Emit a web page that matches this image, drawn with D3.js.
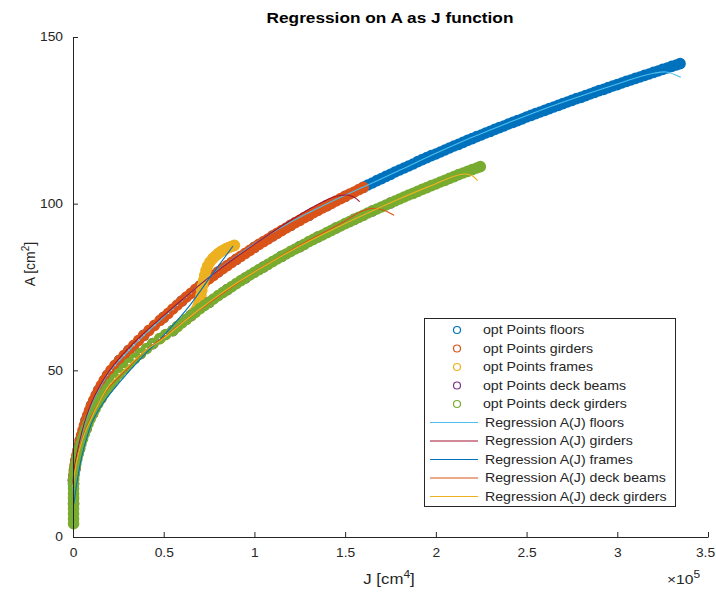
<!DOCTYPE html>
<html><head><meta charset="utf-8">
<script src="https://cdn.jsdelivr.net/npm/d3@7"></script>
<style>
html,body{margin:0;padding:0;background:#fff;}
svg{display:block;}
text{font-family:"Liberation Sans",Arial,Helvetica,sans-serif;}
</style>
</head><body>
<svg id="chart" width="716" height="595"></svg>
<script>
// ---------------- data (J in units of 1e5 cm^4, A in cm^2) ----------------
const xTicks = [0, 0.5, 1, 1.5, 2, 2.5, 3, 3.5];
const yTicks = [0, 50, 100, 150];
const seriesNames = ["floors", "girders", "frames", "deck beams", "deck girders"];
const pointColors = ["#0072BD", "#D95319", "#EDB120", "#7E2F8E", "#77AC30"];
const regColors = ["#4DBEEE", "#A2142F", "#0072BD", "#D95319", "#EDB120"];

const floorsPts = [[0.002,17],[0.016,23],[0.04,29],[0.072,35],[0.102,39.5],[0.141,44],[0.19,48.5],[0.256,53],[0.308,56],[0.39,60.5],[0.5,65.9],[0.6,70.8],[0.7,75.3],[0.8,79.5],[0.9,83.3],[1.0,86.9],[1.1,90.3],[1.2,93.5],[1.3,96.5],[1.4,99.4],[1.5,102.2],
[1.6,104.9],[1.625,105.6],[1.65,106.2],[1.675,106.9],[1.7,107.5],[1.725,108.2],[1.75,108.8],[1.775,109.5],[1.8,110.1],[1.825,110.7],[1.85,111.3],[1.875,111.9],[1.9,112.6],[1.925,113.2],[1.95,113.8],[1.975,114.4],[2.0,114.9],[2.025,115.5],[2.05,116.1],[2.075,116.7],[2.1,117.3],[2.125,117.8],[2.15,118.4],[2.175,119.0],[2.2,119.5],[2.225,120.1],[2.25,120.6],[2.275,121.2],[2.3,121.7],[2.325,122.3],[2.35,122.8],[2.375,123.3],[2.4,123.9],[2.425,124.4],[2.45,124.9],[2.475,125.4],[2.5,126.0],[2.525,126.5],[2.55,127.0],[2.575,127.5],[2.6,128.0],[2.625,128.5],[2.65,129.0],[2.675,129.5],[2.7,130.0],[2.725,130.5],[2.75,131.0],[2.775,131.5],[2.8,131.9],[2.825,132.4],[2.85,132.9],[2.875,133.4],[2.9,133.9],[2.925,134.3],[2.95,134.8],[2.975,135.3],[3.0,135.7],[3.025,136.2],[3.05,136.7],[3.075,137.1],[3.1,137.6],[3.125,138.0],[3.15,138.5],[3.175,138.9],[3.2,139.4],[3.225,139.8],[3.25,140.3],[3.275,140.7],[3.3,141.2],[3.325,141.6],[3.346,142.0]];

const girdersPts = [[0.002,17],[0.004,18.5],[0.007,20],[0.011,21.5],[0.016,23],[0.021,24.5],[0.027,26],[0.033,27.5],[0.04,29],[0.047,30.5],[0.055,32],[0.063,33.5],[0.072,35],[0.081,36.5],[0.091,38],[0.102,39.5],[0.114,41],[0.127,42.5],[0.141,44],[0.156,45.5],[0.172,47],[0.19,48.5],[0.209,50],[0.231,51.5],[0.256,53],[0.282,54.5],[0.308,56],[0.335,57.5],[0.362,59],[0.39,60.5],[0.419,62],[0.449,63.5],[0.48,65],[0.5,65.9],[0.525,67.1],[0.55,68.4],[0.575,69.6],[0.6,70.8],[0.625,72.0],[0.65,73.1],[0.675,74.3],[0.7,75.3],[0.725,76.4],[0.75,77.5],[0.775,78.5],[0.8,79.5],[0.825,80.5],[0.85,81.4],[0.875,82.4],[0.9,83.3],[0.925,84.2],[0.95,85.1],[0.975,86.0],[1.0,86.9],[1.025,87.8],[1.05,88.6],[1.075,89.4],[1.1,90.3],[1.125,91.1],[1.15,91.9],[1.175,92.7],[1.2,93.5],[1.225,94.3],[1.25,95.0],[1.275,95.8],[1.3,96.5],[1.325,97.3],[1.35,98.0],[1.375,98.7],[1.4,99.4],[1.425,100.1],[1.45,100.8],[1.475,101.5],[1.5,102.2],[1.525,102.9],[1.55,103.5],[1.575,104.2],[1.6,104.9]];

const framesPts = [[0.003,12],[0.011,20.5],[0.036,26.5],[0.072,32.5],[0.108,37],[0.153,41.5],[0.209,46],[0.281,50.5],[0.371,55],[0.478,59.5],[0.575,63.1],[0.625,65.3],[0.65,66.4],[0.665,67.3],[0.68,68.3],[0.69,69.5],[0.698,71],[0.705,72.5],[0.71,74],[0.715,75.5],[0.72,77],[0.726,78.5],[0.733,80],[0.742,81.3],[0.755,82.5],[0.77,83.5],[0.785,84.3],[0.8,85],[0.815,85.6],[0.83,86.1],[0.845,86.5],[0.86,86.9],[0.875,87.2],[0.89,87.5]];

const deckBeamsPts = [[0.003,10],[0.003,16],[0.011,20.5],[0.036,26.5],[0.072,32.5],[0.108,37],[0.153,41.5],[0.209,46],[0.281,50.5],[0.371,55],[0.44,58],[0.55,61.9],[0.65,66.4],[0.75,70.4],[0.85,74.2],[0.95,77.7],[1.05,81.0],[1.15,84.2],[1.25,87.1],[1.35,90.0],[1.45,92.7],[1.55,95.3],[1.65,97.8],[1.75,100.2]];

const deckGirdersPts = [[0.003,4],[0.003,5.5],[0.003,7],[0.003,8.5],[0.003,10],[0.003,11.5],[0.003,13],[0.003,14.5],[0.003,16],[0.004,17.5],[0.007,19],[0.011,20.5],[0.016,22],[0.022,23.5],[0.029,25],[0.036,26.5],[0.044,28],[0.053,29.5],[0.062,31],[0.072,32.5],[0.083,34],[0.095,35.5],[0.108,37],[0.122,38.5],[0.137,40],[0.153,41.5],[0.17,43],[0.189,44.5],[0.209,46],[0.231,47.5],[0.255,49],[0.281,50.5],[0.309,52],[0.339,53.5],[0.371,55],[0.405,56.5],[0.44,58],[0.478,59.5],[0.51,60.7],[0.55,61.9],[0.575,63.1],[0.6,64.2],[0.625,65.3],[0.65,66.4],[0.675,67.4],[0.7,68.5],[0.725,69.5],[0.75,70.4],[0.775,71.4],[0.8,72.4],[0.825,73.3],[0.85,74.2],[0.875,75.1],[0.9,76.0],[0.925,76.9],[0.95,77.7],[0.975,78.6],[1.0,79.4],[1.025,80.2],[1.05,81.0],[1.075,81.8],[1.1,82.6],[1.125,83.4],[1.15,84.2],[1.175,84.9],[1.2,85.7],[1.225,86.4],[1.25,87.1],[1.275,87.8],[1.3,88.6],[1.325,89.3],[1.35,90.0],[1.375,90.6],[1.4,91.3],[1.425,92.0],[1.45,92.7],[1.475,93.3],[1.5,94.0],[1.525,94.6],[1.55,95.3],[1.575,95.9],[1.6,96.5],[1.625,97.2],[1.65,97.8],[1.675,98.4],[1.7,99.0],[1.725,99.6],[1.75,100.2],[1.775,100.8],[1.8,101.4],[1.825,102.0],[1.85,102.6],[1.875,103.1],[1.9,103.7],[1.925,104.3],[1.95,104.8],[1.975,105.4],[2.0,105.9],[2.025,106.5],[2.05,107.0],[2.075,107.6],[2.1,108.1],[2.125,108.7],[2.15,109.2],[2.175,109.7],[2.2,110.2],[2.225,110.7],[2.245,111.1]];

const floorsReg = [[0,14],[0.005,18],[0.02,23.5],[0.04,29],[0.07,35],[0.1,39.5],[0.15,45],[0.2,49.5],[0.3,55.5],[0.4,61],[0.5,66],[0.6,71],[0.7,75.8],[0.8,80.2],[0.9,84.2],[1.0,88],[1.2,94.5],[1.4,100],[1.6,105],[1.8,110],[2.0,115.1],[2.2,119.9],[2.4,124.3],[2.6,128.5],[2.8,132.3],[3.0,135.9],[3.1,137.7],[3.2,139.1],[3.27,139.5],[3.35,137.9]];
const girdersReg = [[0,16],[0.005,19.5],[0.02,24.5],[0.04,29.5],[0.07,35.5],[0.1,40],[0.15,45.5],[0.2,49.8],[0.3,56.3],[0.4,61.6],[0.5,66.4],[0.6,71.1],[0.7,75.7],[0.8,80],[0.9,84],[1.0,87.8],[1.1,91.5],[1.2,95],[1.3,98.3],[1.4,101.2],[1.45,102.2],[1.51,102.6],[1.55,101.9],[1.58,100.6]];
const framesReg = [[0.005,10],[0.015,14],[0.03,19],[0.05,24.5],[0.08,30.5],[0.11,35],[0.17,40.5],[0.25,46],[0.39,54.5],[0.5,60.5],[0.634,68.8],[0.75,77.5],[0.882,87.3]];
const deckBeamsReg = [[0,16],[0.01,20],[0.03,25.5],[0.06,31],[0.1,36],[0.15,41],[0.2,45],[0.3,50.5],[0.4,56],[0.5,60],[0.6,64.2],[0.75,70.2],[0.9,75.9],[1.0,79.5],[1.1,82.8],[1.2,86],[1.3,89],[1.4,91.9],[1.5,94.8],[1.585,97.6],[1.65,98.6],[1.71,98.1],[1.77,96.5]];
const deckGirdersReg = [[0,15],[0.01,19.5],[0.03,25],[0.06,30.5],[0.1,35.5],[0.15,41],[0.2,45.5],[0.3,51],[0.4,56],[0.5,59.6],[0.6,64.1],[0.7,68.4],[0.8,72.4],[0.9,76.1],[1.0,79.5],[1.2,85.8],[1.4,91.4],[1.6,96.6],[1.8,101.5],[2.0,106],[2.1,108.2],[2.16,108.9],[2.2,108.4],[2.23,106.9]];

const pointSeries = [floorsPts, girdersPts, framesPts, deckBeamsPts, deckGirdersPts];
const regSeries = [floorsReg, girdersReg, framesReg, deckBeamsReg, deckGirdersReg];

// ---------------- drawing ----------------
const SX = 1.15;           // horizontal text stretch of the reference
const TXT = "#262626";
const svg = d3.select("#chart");

const x = d3.scaleLinear().domain([0, 3.5]).range([73, 708]);
const y = d3.scaleLinear().domain([0, 150]).range([537, 37]);

function stext(parent, px, py, s, size, anchor, weight, fill, sx) {
  return parent.append("text")
    .attr("transform", `translate(${px},${py}) scale(${sx || SX},1)`)
    .attr("font-size", size).attr("text-anchor", anchor || "start")
    .attr("font-weight", weight || "normal").attr("fill", fill || TXT)
    .text(s);
}

// points
const gPts = svg.append("g");
pointSeries.forEach((pts, i) => {
  gPts.append("g").selectAll("circle").data(pts).join("circle")
    .attr("cx", d => x(d[0])).attr("cy", d => y(d[1]))
    .attr("r", 3.4).attr("fill", "none")
    .attr("stroke", pointColors[i]).attr("stroke-width", 4.8);
});

// regression lines
const line = d3.line().x(d => x(d[0])).y(d => y(d[1])).curve(d3.curveCatmullRom.alpha(0.5));
regSeries.forEach((pts, i) => {
  svg.append("path").datum(pts).attr("d", line)
    .attr("fill", "none").attr("stroke", regColors[i]).attr("stroke-width", 1.1);
});

// axes
const xAxis = d3.axisBottom(x).tickValues(xTicks).tickSizeInner(-5).tickSizeOuter(0)
  .tickPadding(11).tickFormat(d => String(d));
const gx = svg.append("g").attr("transform", "translate(0,537)").call(xAxis);
const yAxis = d3.axisLeft(y).tickValues(yTicks).tickSizeInner(-5).tickSizeOuter(0)
  .tickPadding(10).tickFormat(d => String(d));
const gy = svg.append("g").attr("transform", "translate(73,0)").call(yAxis);
[gx, gy].forEach(g => {
  g.select(".domain").attr("stroke", TXT).attr("stroke-width", 1);
  g.selectAll(".tick line").attr("stroke", TXT).attr("stroke-width", 1);
  g.selectAll(".tick text").attr("fill", TXT).attr("font-size", 12)
    .attr("font-family", "Liberation Sans, Arial, sans-serif");
});
gx.selectAll(".tick text").attr("transform", `scale(${SX},1)`)
  .attr("x", d => d === 3.5 ? -3 / SX : 0);
gy.selectAll(".tick text").attr("x", -10 / SX).attr("transform", `scale(${SX},1)`);

// title
stext(svg, 390, 23, "Regression on A as J function", 15, "middle", "bold", "#000");

// x label with superscript
const xl = stext(svg, 389, 584, "", 14, "middle", "normal", TXT, 1.2);
xl.append("tspan").text("J [cm");
xl.append("tspan").attr("dy", -6).attr("font-size", 10).text("4");
xl.append("tspan").attr("dy", 6).text("]");

// exponent
const ex = stext(svg, 667, 584, "", 13, "start", "normal", TXT, 1.2);
ex.append("tspan").text("\u00d710");
ex.append("tspan").attr("dy", -6).attr("font-size", 10).text("5");

// y label
const yl = svg.append("text").attr("transform", "translate(35,264) rotate(-90)")
  .attr("font-size", 14).attr("text-anchor", "middle").attr("fill", TXT);
yl.append("tspan").text("A [cm");
yl.append("tspan").attr("dy", -6).attr("font-size", 10).text("2");
yl.append("tspan").attr("dy", 6).text("]");

// legend
const lg = svg.append("g");
lg.append("rect").attr("x", 424.5).attr("y", 318.5).attr("width", 251).attr("height", 188)
  .attr("fill", "#fff").attr("stroke", TXT).attr("stroke-width", 1);
const rowY = i => 330 + i * 18.5;
seriesNames.forEach((nm, i) => {
  lg.append("circle").attr("cx", 457).attr("cy", rowY(i)).attr("r", 3.5)
    .attr("fill", "none").attr("stroke", pointColors[i]).attr("stroke-width", 1.2);
  stext(lg, 483, rowY(i) + 4, "opt Points " + nm, 12, "start", "normal", TXT, 1.18);
});
seriesNames.forEach((nm, j) => {
  const i = j + 5;
  lg.append("line").attr("x1", 430).attr("x2", 478).attr("y1", rowY(i)).attr("y2", rowY(i))
    .attr("stroke", regColors[j]).attr("stroke-width", 1.2);
  stext(lg, 485, rowY(i) + 4, "Regression A(J) " + nm, 12, "start", "normal", TXT, 1.18);
});
</script>
</body></html>
